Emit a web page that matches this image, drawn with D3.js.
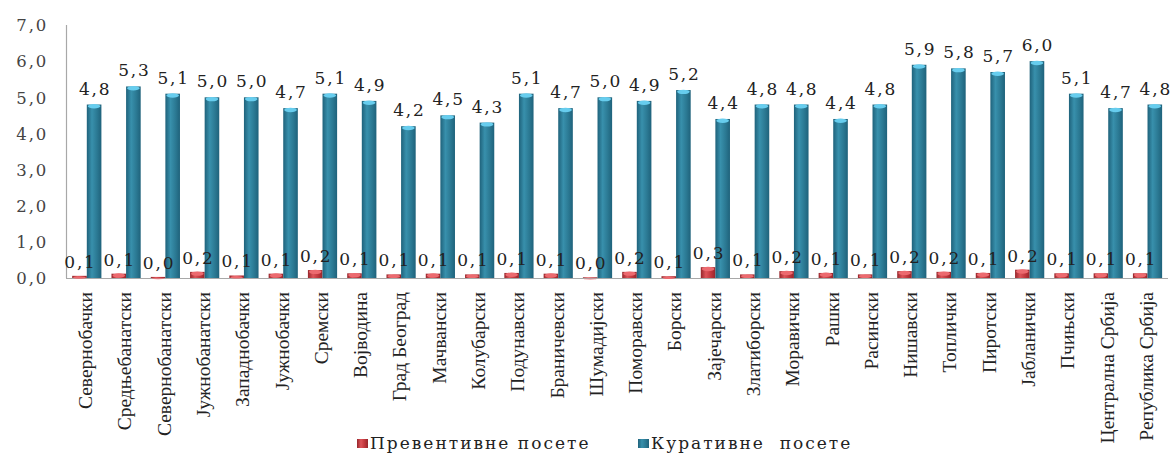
<!DOCTYPE html>
<html>
<head>
<meta charset="utf-8">
<script src="https://cdn.jsdelivr.net/npm/d3@7"></script>
<style>
  html, body { margin: 0; padding: 0; background: #fff; }
  svg { display: block; }
</style>
</head>
<body>
<svg id="chart" width="1173" height="456"></svg>
<script>
// Districts of Serbia
const categories = [
  "Севернобачки", "Средњебанатски", "Севернобанатски", "Јужнобанатски",
  "Западнобачки", "Јужнобачки", "Сремски", "Војводина", "Град Београд",
  "Мачвански", "Колубарски", "Подунавски", "Браничевски", "Шумадијски",
  "Поморавски", "Борски", "Зајечарски", "Златиборски", "Моравички",
  "Рашки", "Расински", "Нишавски", "Топлички", "Пиротски", "Јабланички",
  "Пчињски", "Централна  Србија", "Република Србија"
];

// Preventive visits per inhabitant
const preventive = [
  0.06, 0.12, 0.03, 0.17, 0.07, 0.12, 0.22, 0.13, 0.10, 0.12,
  0.10, 0.14, 0.12, 0.02, 0.17, 0.05, 0.30, 0.10, 0.19, 0.14,
  0.10, 0.19, 0.17, 0.14, 0.23, 0.13, 0.13, 0.13
];

// Curative visits per inhabitant
const curative = [
  4.8, 5.3, 5.1, 5.0, 5.0, 4.7, 5.1, 4.9, 4.2, 4.5,
  4.3, 5.1, 4.7, 5.0, 4.9, 5.2, 4.4, 4.8, 4.8, 4.4,
  4.8, 5.9, 5.8, 5.7, 6.0, 5.1, 4.7, 4.8
];

const yTicks = [0, 1, 2, 3, 4, 5, 6, 7];
const seriesNames = ["Превентивне посете", "Куративне  посете"];

const fmt = v => d3.format(".1f")(v).replace(".", ",");

const svg = d3.select("#chart");
const defs = svg.append("defs");

function cylGradient(id, edge, mid, light) {
  const g = defs.append("linearGradient").attr("id", id)
    .attr("x1", "0%").attr("x2", "100%").attr("y1", "0%").attr("y2", "0%");
  g.append("stop").attr("offset", "0%").attr("stop-color", edge);
  g.append("stop").attr("offset", "35%").attr("stop-color", light);
  g.append("stop").attr("offset", "70%").attr("stop-color", mid);
  g.append("stop").attr("offset", "100%").attr("stop-color", edge);
}
cylGradient("gTeal", "#1f627b", "#2b7993", "#3890ac");
cylGradient("gRed", "#96262b", "#c0363c", "#dd5459");

const x0 = 66, x1 = 1166, yBase = 278, yTop = 25;
const x = d3.scaleBand().domain(categories).range([x0, x1]).padding(0);
const y = d3.scaleLinear().domain([0, 7]).range([yBase, yTop]);

const barW = 14.6;
const redOff = 6.2;
const tealOff = redOff + barW;

const serif = "'DejaVu Serif', serif";

// Y axis
const yAxis = d3.axisLeft(y).tickValues(yTicks).tickSize(0).tickPadding(0).tickFormat(fmt);
const gy = svg.append("g").attr("transform", `translate(${x0 - 18},0)`).call(yAxis);
gy.select(".domain").remove();
gy.selectAll("text")
  .attr("font-family", serif)
  .attr("font-size", 16.5)
  .attr("letter-spacing", "1.8px")
  .attr("fill", "#444")
  .attr("dy", "0.35em");

// axis lines
svg.append("line").attr("x1", x0 + 0.5).attr("x2", x0 + 0.5)
  .attr("y1", yTop).attr("y2", yBase).attr("stroke", "#a8a8a8").attr("stroke-width", 1.2);
svg.append("line").attr("x1", x0).attr("x2", x1 + 2)
  .attr("y1", yBase + 0.5).attr("y2", yBase + 0.5).attr("stroke", "#a8a8a8").attr("stroke-width", 1.2);

// X axis labels (rotated)
const xAxis = d3.axisBottom(x).tickSize(0).tickPadding(0);
const gx = svg.append("g").attr("transform", `translate(0,${yBase + 14})`).call(xAxis);
gx.select(".domain").remove();
gx.selectAll("text")
  .attr("font-family", "'Liberation Serif', 'Times New Roman', serif")
  .attr("font-size", 19.5)
  .attr("fill", "#222")
  .attr("transform", "rotate(-90)")
  .attr("text-anchor", "end")
  .attr("x", 0)
  .attr("y", 0)
  .attr("dy", "0.33em");

// bars
const groups = svg.append("g").selectAll("g").data(categories).join("g")
  .attr("transform", d => `translate(${x(d)},0)`);

function drawBar(sel, off, valueOf, grad, topCol) {
  sel.append("rect")
    .attr("x", off)
    .attr("y", (d, i) => y(valueOf(i)))
    .attr("width", barW)
    .attr("height", (d, i) => yBase - y(valueOf(i)))
    .attr("fill", `url(#${grad})`);
  sel.append("ellipse")
    .attr("cx", off + barW / 2)
    .attr("cy", (d, i) => y(valueOf(i)) + 1.8)
    .attr("rx", barW / 2 - 1)
    .attr("ry", (d, i) => Math.min(2.2, (yBase - y(valueOf(i))) / 2))
    .attr("fill", topCol);
}
drawBar(groups, redOff, i => preventive[i], "gRed", "#ec6a6f");
drawBar(groups, tealOff, i => curative[i], "gTeal", "#67cdee");

// value labels
groups.append("text")
  .attr("x", tealOff + barW / 2 + 1)
  .attr("y", (d, i) => y(curative[i]) - 10)
  .attr("text-anchor", "middle")
  .attr("font-family", serif).attr("font-size", 17).attr("letter-spacing", "1.8px")
  .attr("fill", "#222")
  .text((d, i) => fmt(curative[i]));
groups.append("text")
  .attr("x", redOff + barW / 2 + 1)
  .attr("y", (d, i) => y(preventive[i]) - 8)
  .attr("text-anchor", "middle")
  .attr("font-family", serif).attr("font-size", 17).attr("letter-spacing", "1.8px")
  .attr("fill", "#222")
  .text((d, i) => fmt(preventive[i]));

// legend
const legend = svg.append("g").attr("transform", "translate(357,444)");
const legItems = [
  { name: seriesNames[0], grad: "gRed", x: 0 },
  { name: seriesNames[1], grad: "gTeal", x: 281 }
];
const li = legend.selectAll("g").data(legItems).join("g")
  .attr("transform", d => `translate(${d.x},0)`);
li.append("rect").attr("x", 0).attr("y", -5).attr("width", 11).attr("height", 9)
  .attr("fill", d => `url(#${d.grad})`);
li.append("text").attr("x", 13).attr("y", 5)
  .attr("font-family", serif).attr("font-size", 17).attr("letter-spacing", "2px")
  .style("white-space", "pre")
  .attr("fill", "#222")
  .text(d => d.name);
</script>
</body>
</html>
